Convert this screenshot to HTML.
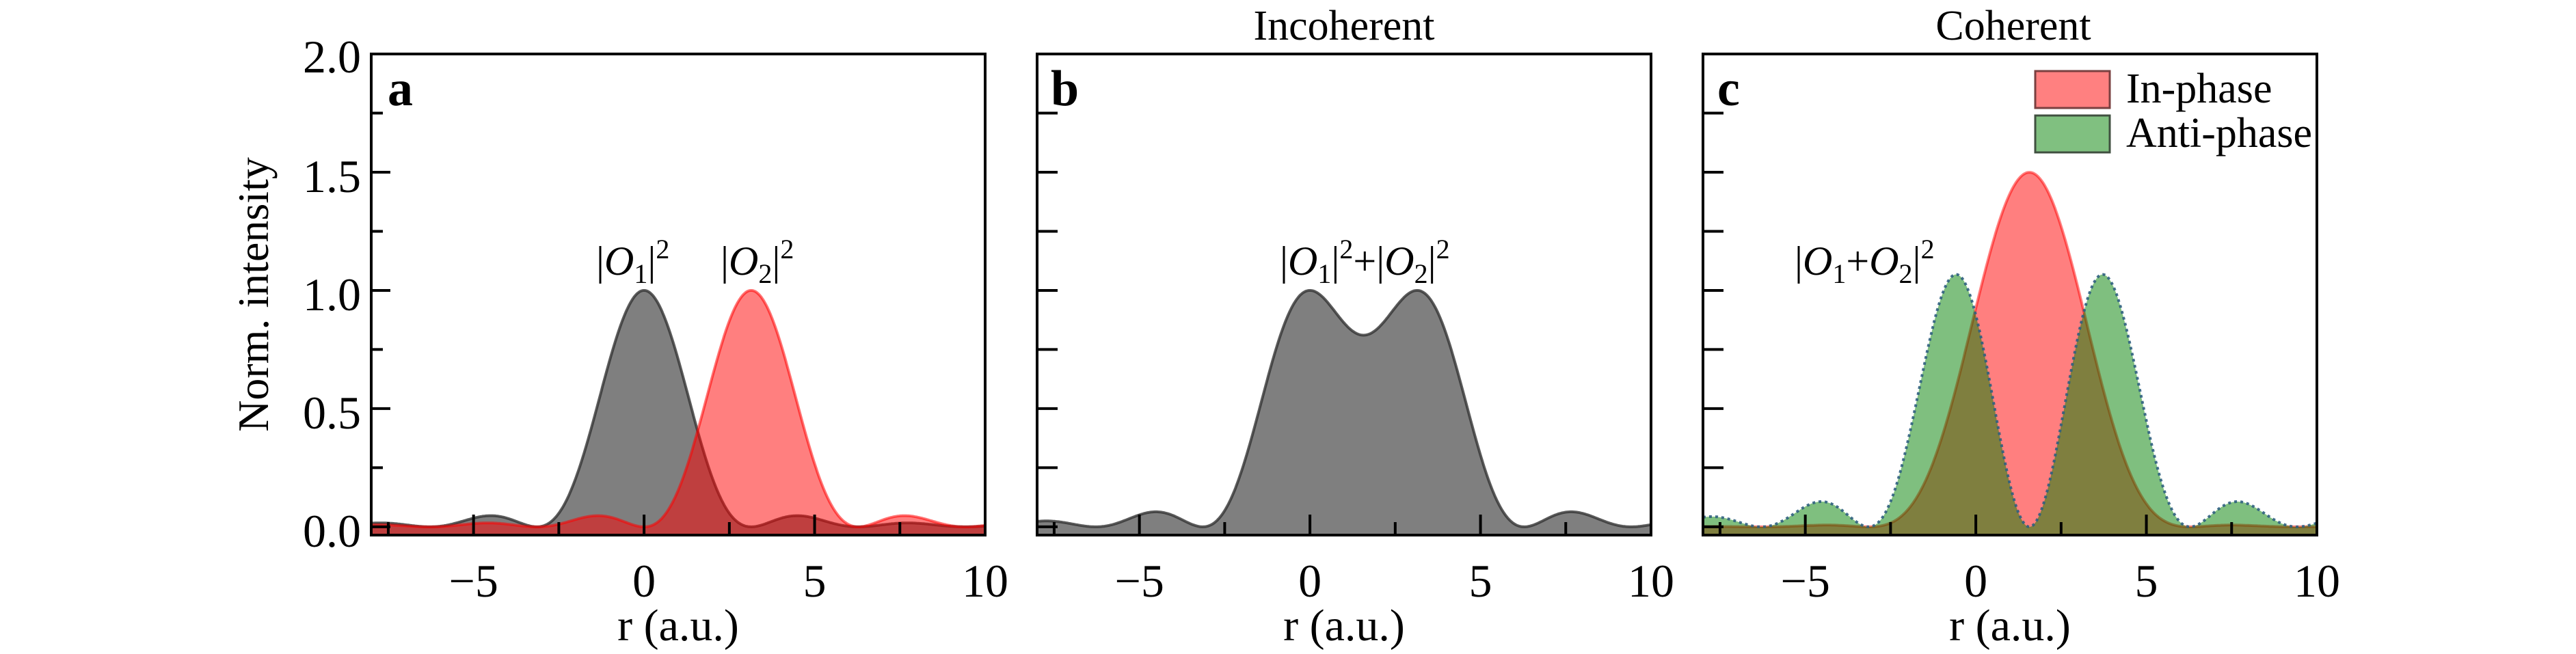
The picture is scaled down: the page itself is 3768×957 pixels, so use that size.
<!DOCTYPE html>
<html><head><meta charset="utf-8"><style>
html,body{margin:0;padding:0;background:#fff;}
svg{display:block;font-family:"Liberation Serif","DejaVu Serif",serif;}
</style></head><body>
<svg id="s" width="3768" height="957" viewBox="0 0 3768 957" xmlns="http://www.w3.org/2000/svg">
<g id="plots"></g>
<g font-size="68" fill="#000" text-anchor="end">
<text x="528" y="800">0.0</text>
<text x="528" y="627">0.5</text>
<text x="528" y="454">1.0</text>
<text x="528" y="281">1.5</text>
<text x="528" y="106">2.0</text>
</g>
<text transform="translate(392,431) rotate(-90)" font-size="64" text-anchor="middle">Norm. intensity</text>
<g font-size="62" text-anchor="middle">
<text x="1966" y="58">Incoherent</text>
<text x="2945" y="58">Coherent</text>
</g>
<g font-size="74" font-weight="bold">
<text x="567" y="154">a</text>
<text x="1537" y="154">b</text>
<text x="2512" y="154">c</text>
</g>
<g font-size="60">
<text x="872" y="402">|<tspan font-style="italic">O</tspan><tspan font-size="40" dy="12">1</tspan><tspan dy="-12">|</tspan><tspan font-size="40" dy="-24">2</tspan></text>
<text x="1054" y="402">|<tspan font-style="italic">O</tspan><tspan font-size="40" dy="12">2</tspan><tspan dy="-12">|</tspan><tspan font-size="40" dy="-24">2</tspan></text>
<text x="1872" y="402">|<tspan font-style="italic">O</tspan><tspan font-size="40" dy="12">1</tspan><tspan dy="-12">|</tspan><tspan font-size="40" dy="-24">2</tspan><tspan dy="24">+|</tspan><tspan font-style="italic">O</tspan><tspan font-size="40" dy="12">2</tspan><tspan dy="-12">|</tspan><tspan font-size="40" dy="-24">2</tspan></text>
<text x="2625" y="402">|<tspan font-style="italic">O</tspan><tspan font-size="40" dy="12">1</tspan><tspan dy="-12">+</tspan><tspan font-style="italic">O</tspan><tspan font-size="40" dy="12">2</tspan><tspan dy="-12">|</tspan><tspan font-size="40" dy="-24">2</tspan></text>
</g>
<g>
<rect x="2977" y="104" width="109" height="54" fill="#ff8080" stroke="#7a4040" stroke-width="3"/>
<rect x="2977" y="169" width="109" height="54" fill="#80c080" stroke="#405040" stroke-width="3"/>
<text x="3110" y="150" font-size="62">In-phase</text>
<text x="3110" y="215" font-size="62">Anti-phase</text>
</g>
</svg>
<script>
(function(){
var NS="http://www.w3.org/2000/svg";
var g=document.getElementById("plots");
var T=79,B=783,W=898;
function sinc(x){return Math.abs(x)<1e-9?1:Math.sin(x)/x;}
var P=Math.PI;
function Y(v){return B-(v+0.035)/2.035*(B-T);}
function el(n,a){var e=document.createElementNS(NS,n);for(var k in a)e.setAttribute(k,a[k]);g.appendChild(e);return e;}
function path(L,f){var d="",N=600;for(var i=0;i<=N;i++){var r=-8+18*i/N;var x=L+(r+8)/18*W;d+=(i?"L":"M")+x.toFixed(1)+","+Y(f(r)).toFixed(1);}return d;}
function area(L,f,fill,fo,stroke,so,dash){var d=path(L,f);
 el("path",{d:d+"L"+(L+W)+","+B+"L"+L+","+B+"Z",fill:fill,"fill-opacity":fo,stroke:"none"});
 var a={d:d,fill:"none",stroke:stroke,"stroke-width":4,"stroke-opacity":so};if(dash)a["stroke-dasharray"]=dash;el("path",a);}
var f1=function(r){return Math.pow(sinc(r),2);};
var f2=function(r){return Math.pow(sinc(r-P),2);};
var fin=function(r){return 0.925*Math.pow(sinc(r)+sinc(r-P),2);};
var fan=function(r){return 0.895*Math.pow(sinc(r)-sinc(r-P),2);};
var Ls=[543,1517,2491];
area(543,f1,"#000",0.5,"#333",0.8);
area(543,f2,"#ff0000",0.5,"#ff0000",0.55);
area(1517,function(r){return f1(r)+f2(r);},"#000",0.5,"#333",0.8);
area(2491,fin,"#ff0000",0.5,"#ff0000",0.5);
area(2491,fan,"#008000",0.5,"#2f5f80",0.9,"4,5");
Ls.forEach(function(L,pi){
 el("rect",{x:L,y:T,width:W,height:B-T,fill:"none",stroke:"#000","stroke-width":4});
 for(var v=-7.5;v<=10.01;v+=2.5){var x=L+(v+8)/18*W;var maj=Math.abs(v%5)<0.01;
  el("line",{x1:x,y1:B,x2:x,y2:B-(maj?30:19),stroke:"#000","stroke-width":4});
  if(maj){var t=el("text",{x:x,y:873,"font-size":68,"text-anchor":"middle"});t.textContent=(v<0?"\u2212":"")+Math.abs(v);}}
 for(var k=0;k<8;k++){var y=Y(k*0.25);var maj=(k%2==0);var len=pi==0?(maj?28:17):30;
  el("line",{x1:L,y1:y,x2:L+len,y2:y,stroke:"#000","stroke-width":4});}
 var t=el("text",{x:L+W/2,y:937,"font-size":66,"text-anchor":"middle"});t.textContent="r (a.u.)";
});
})();
</script>
</body></html>
